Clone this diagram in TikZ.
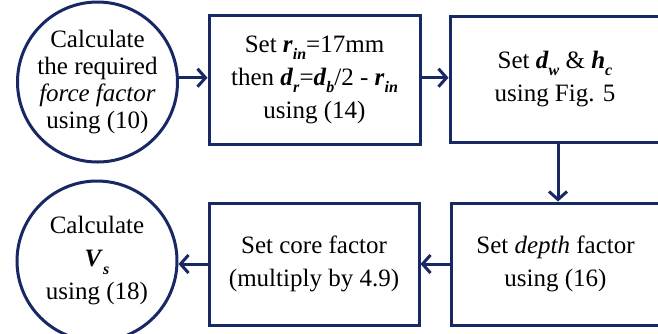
\documentclass[tikz,border=0pt]{standalone}
\usepackage{fontspec}
\setmainfont{Liberation Serif}
\usetikzlibrary{arrows.meta}
\definecolor{navy}{RGB}{24,40,100}
% bold italic symbol with a lowered bold italic subscript
\newcommand\bvar[2]{\textbf{\textit{#1}}\raisebox{-0.3em}{\fontsize{16}{16}\selectfont\textbf{\textit{#2}}}}
\begin{document}
\begin{tikzpicture}[x=1pt,y=-1pt,
  every node/.style={align=center},
  stepbox/.style={draw=navy, line width=3pt, rectangle, inner sep=0pt,
    font=\fontsize{25}{33}\selectfont},
  roundbox/.style={draw=navy, line width=3pt, circle, minimum size=160pt,
    inner sep=-12pt},
  arr/.style={draw=navy, line width=3pt, -{Straight Barb[length=8pt,width=18pt]}}]
\clip (0,0) rectangle (658,333);
\fill[white] (0,0) rectangle (658,333);

% top row
\node[roundbox, font=\fontsize{25}{27}\selectfont] (c1) at (97.5,82)
  {Calculate\\the required\\\textit{force factor}\\using (10)};
\node[stepbox, minimum width=211pt, minimum height=129pt] (b1) at (314.5,79.5)
  {Set \bvar{r}{in}=17mm\\then \bvar{d}{r}=\bvar{d}{b}/2 - \bvar{r}{in}\\using (14)};
\node[stepbox, minimum width=210pt, minimum height=126pt] (b2) at (555,79)
  {Set \bvar{d}{w} \& \bvar{h}{c}\\using Fig. 5};

% bottom row
\node[stepbox, minimum width=209pt, minimum height=122pt] (b3) at (555.5,264)
  {Set \textit{depth} factor\\using (16)};
\node[stepbox, minimum width=210pt, minimum height=122pt] (b4) at (314,264)
  {Set core factor\\(multiply by 4.9)};
\node[roundbox, font=\fontsize{25}{33}\selectfont] (c2) at (97,261)
  {Calculate\\\bvar{V}{s}\\using (18)};

% connectors
\coordinate (dx) at (558,0);
\draw[arr] (c1.3) -- (c1.3 -| b1.west);
\draw[arr] (b1.east |- c1.3) -- (b2.west |- c1.3);
\draw[arr] (b2.south -| dx) -- (b3.north -| dx);
\draw[arr] (b3.west) -- (b4.east);
\draw[arr] (b4.west) -- (b4.west -| c2.east);
\end{tikzpicture}
\end{document}
